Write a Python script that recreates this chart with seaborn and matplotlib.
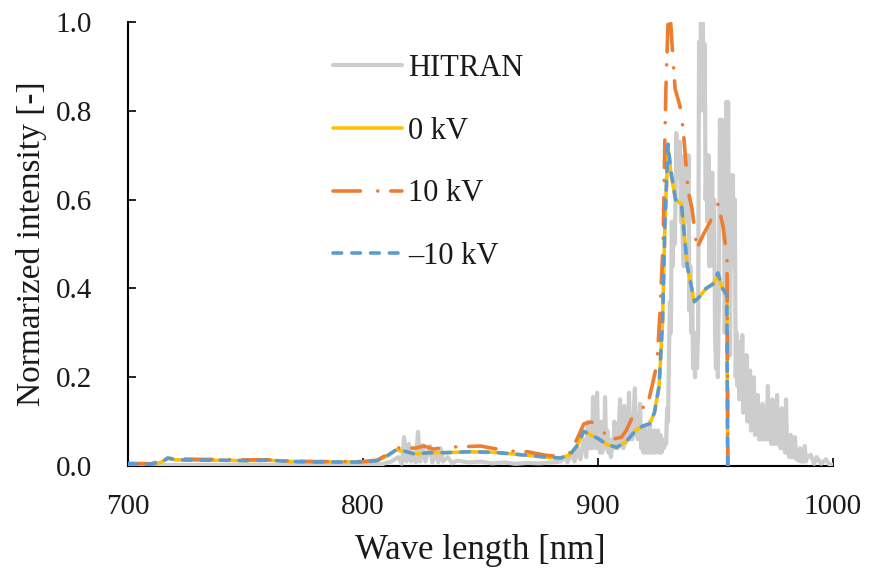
import matplotlib
matplotlib.use("Agg")
import matplotlib.pyplot as plt
from matplotlib.ticker import FormatStrFormatter, MultipleLocator
import pandas as pd
import seaborn as sns

# HITRAN reference spectrum (wavelength nm, normalized intensity)
hitran_nm = [
    700, 760, 800, 808, 812, 815, 816.5, 817.5, 818.5, 819.5,
    820.5, 821.5, 822.5, 823.4, 824.3, 825.5, 826.5, 828.5, 829.5, 831,
    832, 833, 834, 836, 838, 840, 845, 850, 855, 860,
    865, 870, 875, 880, 884, 886, 887, 889, 890, 891.5,
    892.5, 894, 895,
    895.7, 896.3, 896.8, 897.4, 897.9, 898.4, 898.8, 899.2, 899.6, 900.1,
    900.5, 900.9, 901.3, 901.8, 902.2, 902.6, 903, 903.5, 904, 904.5,
    905, 905.5, 906, 906.5, 907, 907.4, 907.8, 908.4, 909, 909.4,
    909.9, 910.3, 910.8, 911.2, 911.6, 912, 912.6, 913.2, 913.6, 914,
    914.6, 915.2, 915.7, 916.1, 916.5, 917, 917.5, 917.9, 918.4, 918.8,
    919.4, 920, 920.5, 921, 921.5, 922.1, 922.6, 923, 923.5, 924,
    924.5, 925, 925.5, 926, 926.5, 927, 927.5, 928, 928.5, 929,
    929.4, 929.8, 930.2, 930.6, 931.0, 931.4, 931.8, 932.2, 932.6, 933.0,
    933.3, 933.7, 934.1, 934.5, 934.9, 935.3, 935.7, 936.1, 936.5, 936.9,
    937.3, 937.7, 938.1, 938.5, 938.9, 939.3, 939.7, 940.1, 940.5, 940.9,
    941.3, 941.7, 942.1, 942.6, 943.0, 943.4, 943.8, 944.2, 944.6, 945.0,
    945.4, 945.8, 946.2, 946.6, 947.0, 947.4, 947.8, 948.2, 948.6, 949.0,
    949.4, 949.8, 950.2, 950.6, 951.0, 951.4, 951.9, 952.3, 952.7, 953.1,
    953.5, 953.9, 954.3, 954.6, 955.0, 955.4, 955.8, 956.2, 956.6, 957.0,
    957.4, 957.8, 958.2, 958.6, 959.0, 959.4, 959.8, 960.2, 960.6, 961.0,
    961.4, 961.8, 962.2,
    962.7, 963.2, 963.6, 964.0, 964.7, 965.1, 965.5, 966.0, 966.3, 966.8,
    967.2, 967.6, 968.0, 968.5, 969.0, 969.5, 970.0, 970.5, 971.0, 971.6,
    972.3, 972.8, 973.2, 973.7, 974.2, 974.7, 975.2, 975.7, 976.2, 976.7,
    977.2, 977.7, 978.2, 978.7, 979.2, 979.6, 980.0, 980.5, 981.0, 981.5,
    982.0, 982.5, 983.0, 983.4, 983.8, 984.4, 985.0, 985.5, 986.0, 986.5,
    987.0, 987.5, 988.0, 988.5, 989.0, 990.5, 992, 993, 995, 997,
    998.5, 1000,
]
hitran_int = [
    .002, .002, .002, .004, .010, .020, .005, .065, .010, .050,
    .010, .030, .008, .077, .010, .047, .010, .045, .008, .030,
    .008, .040, .010, .020, .006, .012, .008, .010, .006, .008,
    .005, .007, .006, .008, .010, .020, .008, .030, .010, .040,
    .015, .060, .020,
    .100, .040, .080, .040, .155, .050, .090, .040, .165, .040,
    .080, .030, .100, .030, .080, .040, .155, .040, .080, .030,
    .060, .020, .050, .040, .100, .040, .080, .040, .100, .150,
    .050, .090, .040, .135, .050, .090, .060, .165, .060, .100,
    .060, .120, .175, .070, .110, .060, .090, .140, .040, .080,
    .030, .090, .030, .060, .030, .100, .030, .060, .030, .080,
    .030, .060, .080, .030, .070, .030, .060, .040, .050, .050,
    .13, .10, .25, .37, .30, .55, .45, .55, .50, .60,
    .75, .65, .72, .68, .73, .55, .60, .50, .45, .70,
    .60, .70, .55, .70, .35, .45, .30, .37, .22, .30,
    .20, .30, .22, .30, .955, .80, 1.0, .85, 1.0, .80,
    .95, .60, .70, .55, .70, .45, .66, .50, .66, .45,
    .60, .30, .22, .30, .20, .35, .78, .60, .78, .55,
    .70, .30, .40, .82, .65, .82, .30, .25, .655, .50,
    .655, .45, .60, .20, .30, .18, .28, .15, .25, .18,
    .295, .12, .20,
    .14, .25, .10, .16, .215, .08, .14, .09, .20, .07,
    .11, .08, .16, .06, .12, .06, .14, .06, .09, .06,
    .18, .06, .11, .05, .15, .05, .08, .05, .16, .05,
    .08, .04, .13, .04, .06, .03, .15, .03, .05, .02,
    .07, .02, .03, .02, .065, .015, .03, .012, .04, .010,
    .02, .01, .045, .01, .02, .025, .005, .02, .005, .015,
    .003, .003,
]

# Measured emission spectra
meas_nm = [700, 710, 714, 717, 720, 730, 740, 750, 760, 770, 780, 790, 800, 806, 810, 814,
           818, 822, 828, 835, 845, 855, 862, 870, 878, 884, 888, 891, 894, 897, 900, 904,
           908, 912, 916, 919, 922, 924, 926, 927.5, 928.5, 929.8, 931, 933, 935.5, 938,
           941, 943, 946, 949, 951, 953, 954.8, 955.2]
kv0_int = [0.005, 0.004, 0.008, 0.018, 0.014, 0.013, 0.013, 0.012, 0.013, 0.010, 0.009,
           0.009, 0.009, 0.012, 0.022, 0.036, 0.033, 0.027, 0.030, 0.030, 0.032, 0.031,
           0.028, 0.024, 0.020, 0.018, 0.025, 0.045, 0.078, 0.070, 0.062, 0.048, 0.042,
           0.055, 0.080, 0.090, 0.095, 0.120, 0.180, 0.330, 0.550, 0.720, 0.660, 0.600,
           0.590, 0.450, 0.370, 0.380, 0.400, 0.410, 0.430, 0.400, 0.385, 0.000]
kvm10_int = [0.005, 0.004, 0.008, 0.018, 0.014, 0.013, 0.013, 0.012, 0.013, 0.010, 0.009,
             0.009, 0.009, 0.012, 0.022, 0.036, 0.033, 0.027, 0.030, 0.030, 0.032, 0.031,
             0.028, 0.024, 0.020, 0.018, 0.025, 0.045, 0.078, 0.070, 0.062, 0.048, 0.042,
             0.055, 0.080, 0.090, 0.095, 0.120, 0.180, 0.330, 0.550, 0.725, 0.665, 0.600,
             0.590, 0.450, 0.370, 0.380, 0.400, 0.410, 0.435, 0.400, 0.385, 0.000]

kv10_nm = [700, 710, 717, 720, 730, 750, 760, 770, 780, 790, 800, 806, 810, 813, 818, 822,
           826, 830, 835, 845, 850, 855, 862, 870, 878, 884, 888, 891, 894, 897, 900, 903,
           906, 910, 912, 915.5, 918, 921, 923, 925.1, 926.4, 927.7, 928.5, 928.9, 929.8,
           930.6, 931.5, 932.8, 934.9, 936.2, 937.0, 938.3, 940.0, 942.1, 944.7, 947.7,
           951.1, 953.2, 954.9, 955.3]
kv10_int = [0.006, 0.005, 0.018, 0.016, 0.015, 0.014, 0.014, 0.011, 0.010, 0.010, 0.010,
            0.013, 0.025, 0.040, 0.042, 0.040, 0.045, 0.038, 0.042, 0.044, 0.045, 0.040,
            0.034, 0.032, 0.024, 0.022, 0.030, 0.060, 0.095, 0.099, 0.095, 0.072, 0.060,
            0.065, 0.080, 0.120, 0.130, 0.135, 0.180, 0.230, 0.350, 0.500, 0.750, 0.850,
            1.000, 1.030, 0.950, 0.850, 0.810, 0.760, 0.710, 0.620, 0.580, 0.490, 0.520,
            0.550, 0.590, 0.540, 0.470, 0.000]

series_labels = ["HITRAN", "0 kV", "10 kV", "\u201310 kV"]
x_ticks = [700, 800, 900, 1000]

sns.set_theme(style="white")
plt.rcParams["font.family"] = ["Liberation Serif", "DejaVu Serif"]

fig = plt.figure(figsize=(8.69, 5.72), dpi=100)
ax = fig.add_axes([128 / 869, 1 - 466 / 572, 705 / 869, 444 / 572])

hitran_df = pd.DataFrame({"nm": hitran_nm, "val": hitran_int})
kv0_df = pd.DataFrame({"nm": meas_nm, "val": kv0_int})
kv10_df = pd.DataFrame({"nm": kv10_nm, "val": kv10_int})
kvm10_df = pd.DataFrame({"nm": meas_nm, "val": kvm10_int})

sns.lineplot(data=hitran_df, x="nm", y="val", ax=ax, color="#CDCDCE", lw=3.0,
             estimator=None, sort=False, zorder=3)
sns.lineplot(data=kv0_df, x="nm", y="val", ax=ax, color="#FFC000", lw=2.6,
             estimator=None, sort=False, zorder=4, solid_capstyle="round")
sns.lineplot(data=kv10_df, x="nm", y="val", ax=ax, color="#ED7D31", lw=2.6,
             estimator=None, sort=False, zorder=5,
             linestyle=(0, (7.6, 4.8, 0.01, 3.6)), dash_capstyle="round")
sns.lineplot(data=kvm10_df, x="nm", y="val", ax=ax, color="#5B9BD5", lw=2.6,
             estimator=None, sort=False, zorder=6,
             linestyle=(0, (2.4, 2.8)), dash_capstyle="round")

ax.set_xlim(700, 1000)
ax.set_ylim(0, 1.0)
ax.set_xticks(x_ticks)
ax.yaxis.set_major_locator(MultipleLocator(0.2))
ax.yaxis.set_major_formatter(FormatStrFormatter("%.1f"))
ax.tick_params(axis="y", direction="in", length=6, width=1.2, color="black",
               labelsize=21, pad=26, left=True)
ax.tick_params(axis="x", direction="in", length=6, width=1.2, color="black",
               labelsize=21, pad=20, bottom=True)
for lab in ax.get_xticklabels() + ax.get_yticklabels():
    lab.set_color("#1a1a1a")

sns.despine(ax=ax)
ax.spines["left"].set_color("black")
ax.spines["left"].set_linewidth(1.5)
ax.spines["bottom"].set_color("black")
ax.spines["bottom"].set_linewidth(1.5)

ax.set_xlabel("Wave length [nm]", fontsize=25, color="#1a1a1a", labelpad=10)
ax.set_ylabel("Normarized intensity [-]", fontsize=24, color="#1a1a1a", labelpad=6)

handles = ax.get_lines()[:4]
leg = ax.legend(handles, series_labels, loc="upper left",
                bbox_to_anchor=((333 - 128) / 705, (466 - 54) / 444),
                frameon=False, fontsize=22, handlelength=2.25, handletextpad=0.2,
                labelspacing=1.1, borderpad=0, borderaxespad=0)
for t in leg.get_texts():
    t.set_color("#1a1a1a")

fig.savefig("out.png", dpi=100)
